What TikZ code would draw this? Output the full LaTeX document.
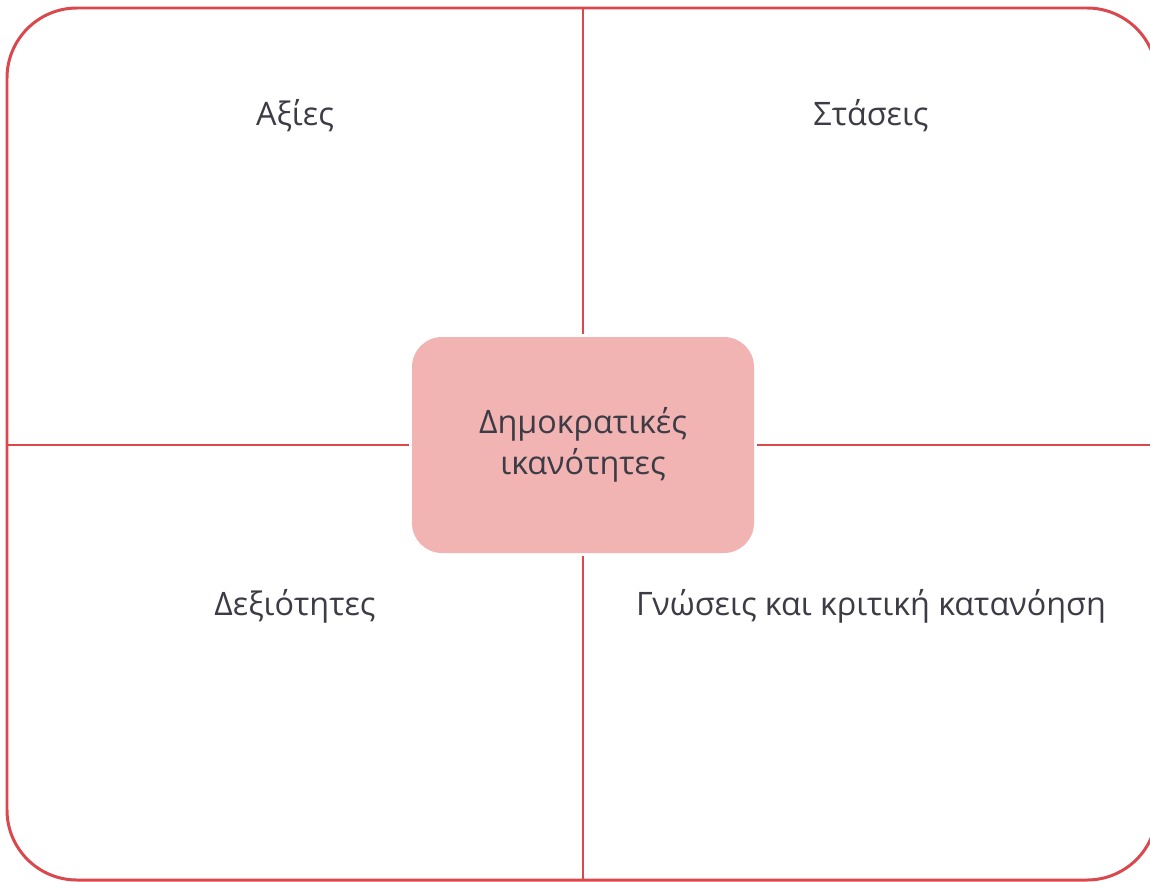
\documentclass[tikz,border=0pt]{standalone}
\usepackage{fontspec}
\setmainfont{Open Sans}
\definecolor{frameRed}{HTML}{D9484C}
\definecolor{hubPink}{HTML}{F2B3B3}
\definecolor{labelGrey}{HTML}{3C3C46}
\begin{document}
\begin{tikzpicture}[x=0.02cm, y=-0.02cm, every node/.style={text=labelGrey, font=\fontsize{18.4}{23.3}\selectfont}]
		\useasboundingbox (0,0) rectangle (1150,882);
		\begin{scope}
			\clip (0,0) rectangle (1150,882);
			\draw[frameRed, line width=1.7pt, rounded corners=70*0.02cm] (7,8) rectangle (1157,880);
		\end{scope}

		\node[fill=hubPink, rounded corners=30*0.02cm, minimum width=342*0.02cm, minimum height=216*0.02cm, align=center] (hub) at (583,445) {Δημοκρατικές\\ικανότητες};

		\coordinate (topEnd) at (583,8);
		\coordinate (bottomEnd) at (583,880);
		\coordinate (leftEnd) at (7,445);
		\coordinate (rightEnd) at (1150,445);

		\draw[frameRed, line width=1.7pt, shorten <=3*0.02cm] (hub.north) -- (topEnd);
		\draw[frameRed, line width=1.7pt, shorten <=3*0.02cm] (hub.south) -- (bottomEnd);
		\draw[frameRed, line width=1.7pt, shorten <=3*0.02cm] (hub.west) -- (leftEnd);
		\draw[frameRed, line width=1.7pt, shorten <=3*0.02cm] (hub.east) -- (rightEnd);

		\node (values) at (295,116) {Αξίες};
		\node (attitudes) at (871,116) {Στάσεις};
		\node (skills) at (295,606) {Δεξιότητες};
		\node (knowledge) at (871,606) {Γνώσεις και κριτική κατανόηση};
	\end{tikzpicture}
\end{document}
